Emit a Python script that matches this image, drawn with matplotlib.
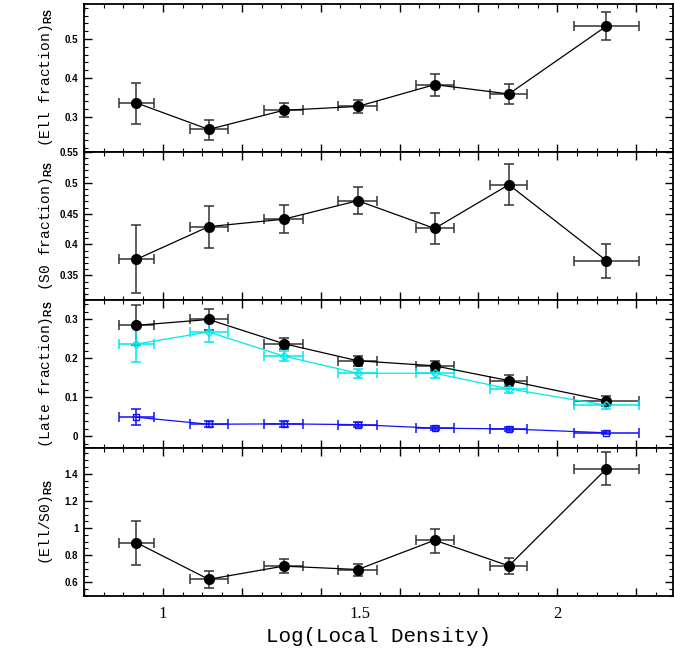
import numpy as np
import matplotlib
matplotlib.use("Agg")
import matplotlib.pyplot as plt
from matplotlib.ticker import MultipleLocator, NullFormatter, FormatStrFormatter

plt.rcParams['mathtext.fontset'] = 'custom'
plt.rcParams['mathtext.rm'] = 'Liberation Mono'
plt.rcParams['mathtext.sf'] = 'Liberation Sans:bold'

# Log local density bins and their half widths
logd = [0.933, 1.116, 1.306, 1.494, 1.689, 1.877, 2.124]
logd_err = [0.045, 0.048, 0.050, 0.049, 0.048, 0.047, 0.083]

# Elliptical fraction
ell = [0.336, 0.268, 0.317, 0.327, 0.383, 0.359, 0.533]
ell_lo = [0.053, 0.026, 0.018, 0.017, 0.028, 0.027, 0.035]
ell_hi = [0.051, 0.024, 0.019, 0.016, 0.028, 0.026, 0.036]

# S0 fraction
s0 = [0.376, 0.429, 0.441, 0.471, 0.426, 0.497, 0.374]
s0_lo = [0.055, 0.034, 0.023, 0.021, 0.025, 0.033, 0.028]
s0_hi = [0.055, 0.033, 0.023, 0.022, 0.025, 0.033, 0.027]

# Late-type fractions: total, and the two sub-classes
late = [0.285, 0.300, 0.238, 0.194, 0.181, 0.143, 0.091]
late_err = [0.051, 0.026, 0.015, 0.013, 0.013, 0.014, 0.013]
late_a = [0.237, 0.268, 0.206, 0.162, 0.162, 0.122, 0.080]
late_a_err = [0.047, 0.025, 0.013, 0.012, 0.012, 0.011, 0.010]
late_b = [0.049, 0.031, 0.032, 0.030, 0.021, 0.019, 0.009]
late_b_err = [0.021, 0.008, 0.007, 0.006, 0.005, 0.005, 0.004]

# Ell/S0 ratio
ratio = [0.893, 0.623, 0.720, 0.695, 0.911, 0.722, 1.436]
ratio_lo = [0.164, 0.067, 0.052, 0.047, 0.092, 0.060, 0.122]
ratio_hi = [0.161, 0.062, 0.049, 0.037, 0.084, 0.059, 0.122]

ecol = '#333333'

fig, axes = plt.subplots(4, 1, figsize=(6.74, 6.57), dpi=100, sharex=True)
fig.subplots_adjust(left=84/674, right=0.999, top=1-4/657, bottom=1-596/657, hspace=0)


def panel(ax, y, ylo, yhi, color='black', ecolor=ecol, marker='o', ms=7, mfc=None):
    ax.errorbar(logd, y, yerr=[ylo, yhi], xerr=logd_err, color=color, ecolor=ecolor,
                marker=marker, ms=ms, mfc=mfc if mfc else color, mec=color,
                lw=0.9, elinewidth=1.1, capsize=3.5, capthick=1.1)


panel(axes[0], ell, ell_lo, ell_hi)
panel(axes[1], s0, s0_lo, s0_hi)
panel(axes[2], late, late_err, late_err)
panel(axes[2], late_a, late_a_err, late_a_err, color='#00e8f0', ecolor='#00e8f0',
      marker='D', ms=4.5, mfc='none')
panel(axes[2], late_b, late_b_err, late_b_err, color='#1010ff', ecolor='#1010ff',
      marker='s', ms=5, mfc='none')
panel(axes[3], ratio, ratio_lo, ratio_hi)

ylims = [(0.21, 0.59), (0.31, 0.55), (-0.03, 0.35), (0.5, 1.59)]
majors = [0.1, 0.05, 0.1, 0.2]
minors = [0.02, 0.01, 0.02, 0.05]
labels = [r'(Ell fraction)$_{\mathsf{RS}}$', r'(S0 fraction)$_{\mathsf{RS}}$',
          r'(Late fraction)$_{\mathsf{RS}}$', r'(Ell/S0)$_{\mathsf{RS}}$']

for ax, yl, mj, mn, lab in zip(axes, ylims, majors, minors, labels):
    ax.set_xlim(0.8, 2.294)
    ax.set_ylim(*yl)
    ax.yaxis.set_major_locator(MultipleLocator(mj))
    ax.yaxis.set_minor_locator(MultipleLocator(mn))
    ax.yaxis.set_major_formatter(FormatStrFormatter('%g'))
    ax.xaxis.set_major_locator(MultipleLocator(0.2))
    ax.xaxis.set_minor_locator(MultipleLocator(0.05))
    ax.xaxis.set_major_formatter(NullFormatter())
    ax.tick_params(which='both', direction='in', top=True, right=True)
    ax.tick_params(which='major', length=6, width=1.0)
    ax.tick_params(which='minor', length=3, width=0.8)
    ax.tick_params(axis='y', labelsize=7, pad=4)
    for t in ax.get_yticklabels():
        t.set_fontweight('bold')
        t.set_family('Liberation Sans')
    for s in ax.spines.values():
        s.set_linewidth(1.3)
    ax.set_ylabel(lab, family='Liberation Mono', fontsize=10.5)
    ax.yaxis.set_label_coords(-0.05, 0.5)

# bottom labels sit at 1, 1.5 and 2, independent of the tick marks
sec = axes[3].secondary_xaxis('bottom')
sec.set_xticks([1, 1.5, 2])
sec.set_xticklabels(['1', '1.5', '2'], family='Liberation Serif', fontsize=12)
sec.tick_params(length=0, pad=7)
sec.spines['bottom'].set_visible(False)
axes[3].set_xlabel('Log(Local Density)', family='Liberation Mono', fontsize=15, labelpad=19)

fig.savefig('out.png', dpi=100)
